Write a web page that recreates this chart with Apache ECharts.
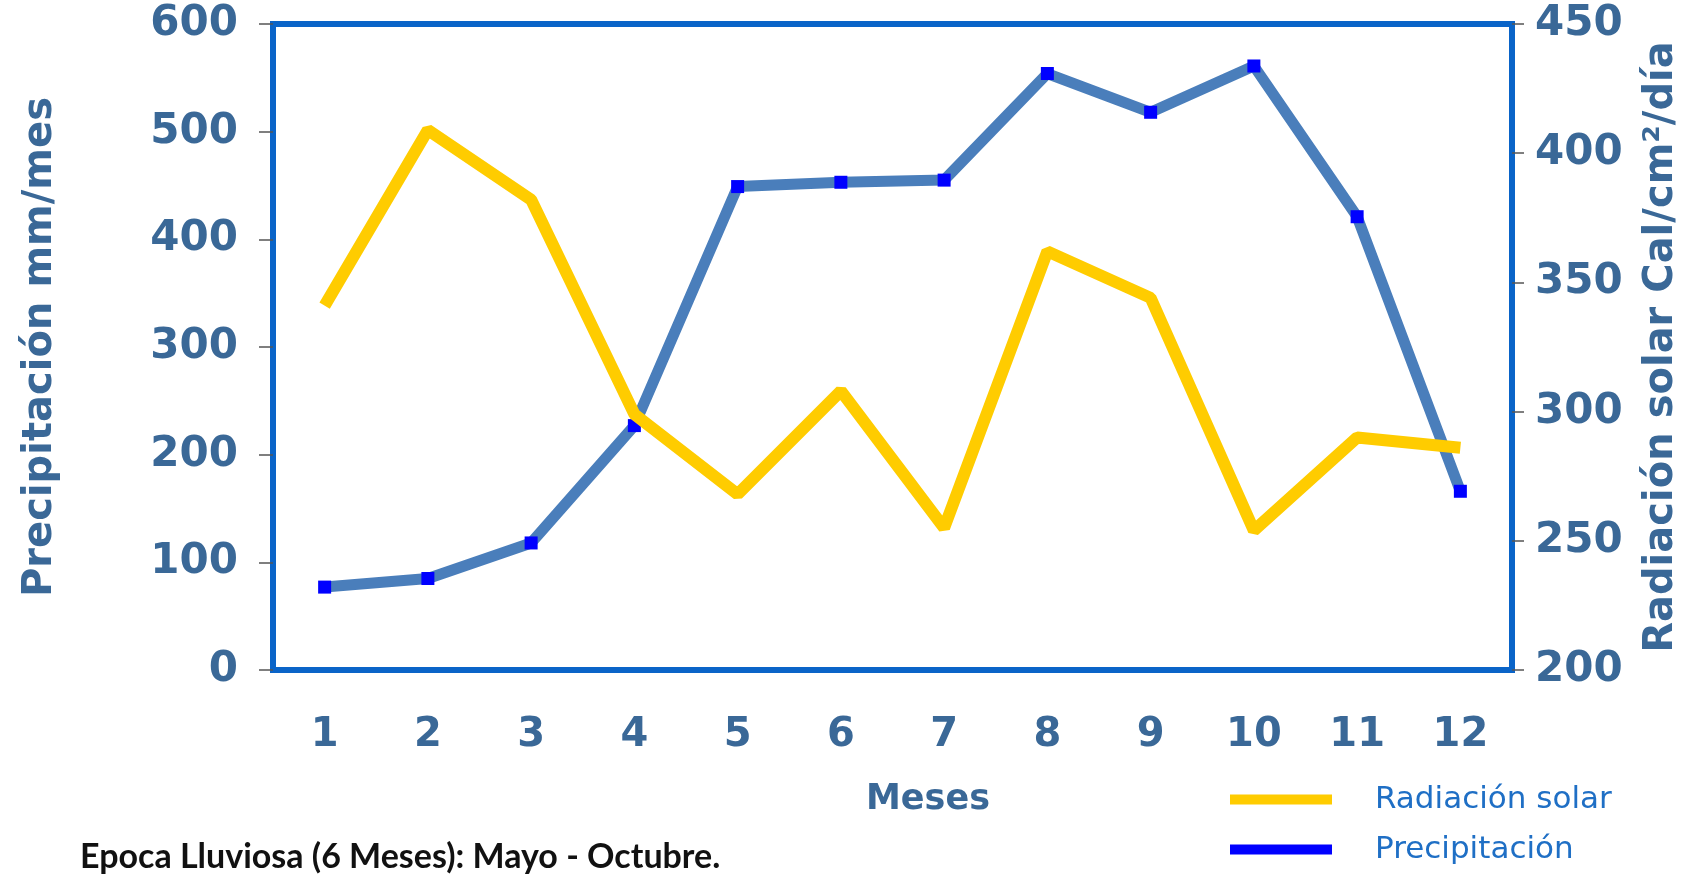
<!DOCTYPE html>
<html>
<head>
<meta charset="utf-8">
<title>Precipitación y radiación solar</title>
<script src="https://cdn.jsdelivr.net/npm/echarts@6/dist/echarts.min.js"></script>
<style>
    html, body { margin: 0; padding: 0; background: #fff; }
    #chart { width: 1681px; height: 875px; }
</style>
</head>
<body>
<div id="chart"></div>
<script>
    // datos
    var meses = ['1', '2', '3', '4', '5', '6', '7', '8', '9', '10', '11', '12'];
    var precipitacion = [77, 85, 118, 227, 449, 453, 455, 554, 518, 561, 421, 166];
    var radiacion = [341, 409, 382, 299, 268, 308, 255, 362, 344, 254, 290, 286];

    var azulEje = '#0a64c8';
    var azulTexto = '#3a6897';
    var fuente = 'DejaVu Sans';

    var myChart = echarts.init(document.getElementById('chart'));
    var options = {
        animation: false,
        grid: {
            left: 273,
            right: 169,
            top: 24,
            bottom: 205,
            outerBoundsMode: 'none',
            show: true,
            borderColor: azulEje,
            borderWidth: 6
        },
        legend: {
            left: 1225,
            top: 779,
            orient: 'vertical',
            itemWidth: 102,
            itemHeight: 10,
            itemGap: 19,
            icon: 'rect',
            data: ['Radiación solar', 'Precipitación'],
            textStyle: {
                fontFamily: fuente,
                fontSize: 31,
                color: '#1f6fc5',
                padding: [0, 0, 0, 38]
            }
        },
        graphic: [
            {
                type: 'text',
                left: 866,
                top: 782,
                style: {
                    text: 'Meses',
                    font: 'bold 35px "DejaVu Sans"',
                    fill: azulTexto
                }
            },
            {
                type: 'text',
                left: 80,
                top: 840,
                style: {
                    text: 'Epoca Lluviosa (6 Meses): Mayo - Octubre.',
                    font: 'bold 34px Lato',
                    fill: '#111'
                }
            }
        ],
        xAxis: [
            {
                type: 'category',
                data: meses,
                position: 'bottom',
                axisLine: { lineStyle: { color: azulEje, width: 6 } },
                axisTick: { length: 16, lineStyle: { color: '#555', width: 1.5 } },
                axisLabel: {
                    margin: 46,
                    color: azulTexto,
                    fontFamily: fuente,
                    fontWeight: 'bold',
                    fontSize: 40
                }
            },
            {
                // solo para las marcas que cruzan el eje hacia adentro
                type: 'category',
                data: meses,
                position: 'bottom',
                offset: 0,
                axisLine: { show: false },
                axisTick: { inside: true, length: 14, lineStyle: { color: '#555', width: 1.5 } },
                axisLabel: { show: false }
            }
        ],
        yAxis: [
            {
                type: 'value',
                min: 0,
                max: 600,
                interval: 100,
                name: 'Precipitación mm/mes',
                nameLocation: 'middle',
                nameGap: 212,
                nameTextStyle: {
                    color: azulTexto,
                    fontFamily: fuente,
                    fontWeight: 'bold',
                    fontSize: 40
                },
                splitLine: { show: false },
                axisLine: { show: true, lineStyle: { color: azulEje, width: 6 } },
                axisTick: { show: true, length: 14, lineStyle: { color: '#555', width: 1.5 } },
                axisLabel: {
                    margin: 35,
                    color: azulTexto,
                    fontFamily: fuente,
                    fontWeight: 'bold',
                    fontSize: 42
                }
            },
            {
                type: 'value',
                min: 200,
                max: 450,
                interval: 50,
                position: 'right',
                name: 'Radiación solar Cal/cm²/día',
                nameLocation: 'middle',
                nameGap: 130,
                nameTextStyle: {
                    color: azulTexto,
                    fontFamily: fuente,
                    fontWeight: 'bold',
                    fontSize: 40
                },
                splitLine: { show: false },
                axisLine: { show: true, lineStyle: { color: azulEje, width: 6 } },
                axisTick: { show: true, length: 12, lineStyle: { color: '#555', width: 1.5 } },
                axisLabel: {
                    margin: 23,
                    color: azulTexto,
                    fontFamily: fuente,
                    fontWeight: 'bold',
                    fontSize: 42
                }
            }
        ],
        series: [
            {
                name: 'Precipitación',
                type: 'line',
                xAxisIndex: 0,
                yAxisIndex: 0,
                data: precipitacion,
                symbol: 'rect',
                symbolSize: 13,
                itemStyle: { color: '#0000ff' },
                lineStyle: { color: '#4a7ebb', width: 11 },
                z: 2
            },
            {
                name: 'Radiación solar',
                type: 'line',
                xAxisIndex: 0,
                yAxisIndex: 1,
                data: radiacion,
                symbol: 'none',
                itemStyle: { color: '#ffcc00' },
                lineStyle: { color: '#ffcc00', width: 12 },
                z: 3
            }
        ]
    };
    myChart.setOption(options);
    window.addEventListener('resize', myChart.resize);
</script>
</body>
</html>
